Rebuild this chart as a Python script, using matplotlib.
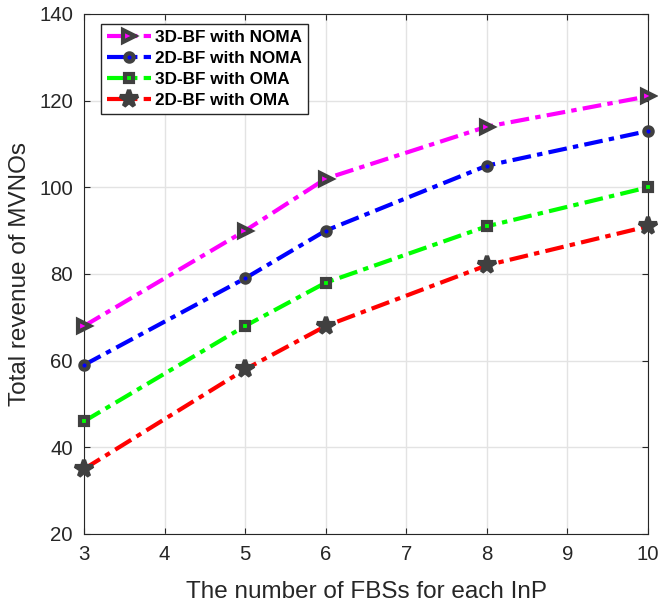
import matplotlib
matplotlib.use("Agg")
import matplotlib.pyplot as plt

plt.rcParams['font.family'] = ['Liberation Sans', 'DejaVu Sans']

# data
fbs = [3, 5, 6, 8, 10]
rev_3d_noma = [68, 90, 102, 114, 121]
rev_2d_noma = [59, 79, 90, 105, 113]
rev_3d_oma = [46, 68, 78, 91, 100]
rev_2d_oma = [35, 58, 68, 82, 91]

edge = "#404040"
# name, values, line colour, marker, marker size, marker face
series = [
    ("3D-BF with NOMA", rev_3d_noma, "#ff00ff", ">", 8.5, "#ff00ff"),
    ("2D-BF with NOMA", rev_2d_noma, "#0000ff", "o", 6, "#0000ff"),
    ("3D-BF with OMA", rev_3d_oma, "#00ff00", "s", 6, "#00ff00"),
    ("2D-BF with OMA", rev_2d_oma, "#ff0000", "*", 13, edge),
]

fig = plt.figure(figsize=(6.58, 6.05), dpi=100)
ax = fig.add_axes([0.1277, 0.1174, 0.8571, 0.8595])

for name, vals, col, mk, ms, fc in series:
    ax.plot(fbs, vals, linestyle=(0, (4.5, 1.5, 1.3, 1.5)), color=col, lw=3,
            marker=mk, markersize=ms, markerfacecolor=fc,
            markeredgecolor=edge, markeredgewidth=3, label=name,
            clip_on=False, zorder=3)

ax.set_xlim(3, 10)
ax.set_ylim(20, 140)
ax.set_xticks(range(3, 11))
ax.set_yticks(range(20, 141, 20))
ax.grid(True, color="#e3e3e3", lw=1)
ax.set_axisbelow(True)
for s in ax.spines.values():
    s.set_color("#262626")
ax.tick_params(direction="in", labelsize=14.7, colors="#262626", length=4, pad=8)
ax.tick_params(top=True, right=True, labeltop=False, labelright=False)

ax.set_xlabel("The number of FBSs for each InP", fontsize=17.5, color="#262626", labelpad=12)
ax.set_ylabel("Total revenue of MVNOs", fontsize=17.5, color="#262626", labelpad=6)

leg = ax.legend(loc="upper left", bbox_to_anchor=(0.03, 0.98),
                prop={'weight': 'bold', 'size': 12.3}, fancybox=False,
                framealpha=1, edgecolor="#262626", borderpad=0.35,
                labelspacing=0.35, handlelength=2.6, handletextpad=0.2,
                borderaxespad=0)
leg.get_frame().set_linewidth(1)

fig.savefig("out.png", dpi=100)
